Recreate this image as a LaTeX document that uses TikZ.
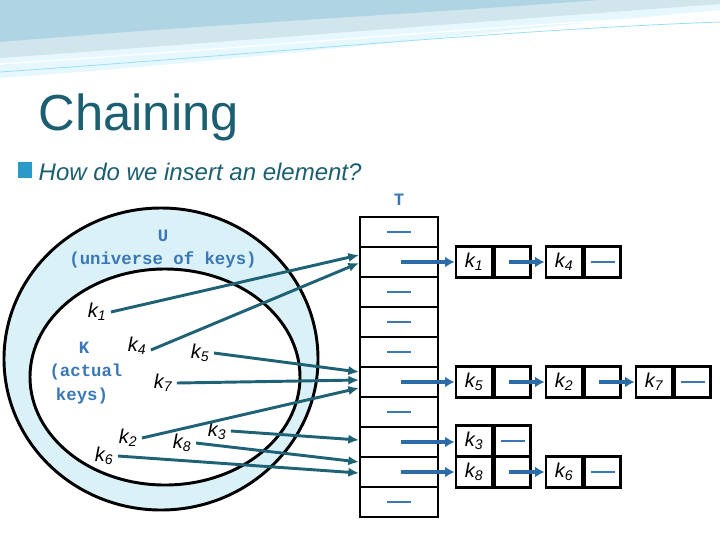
\documentclass[tikz,border=0pt]{standalone}
\usepackage{fontspec}
\setmainfont{Liberation Sans}
\setmonofont{Liberation Mono}
\usetikzlibrary{arrows.meta,shapes.multipart}
\definecolor{teal1}{HTML}{1B5F70}
\definecolor{arrT}{HTML}{1F6275}
\definecolor{arrB}{HTML}{2B6CA8}
\definecolor{lbl}{HTML}{3A78B5}
\definecolor{cyanbg}{HTML}{D9F1F7}
\begin{document}
\begin{tikzpicture}[x=0.75pt,y=-0.75pt,
  cell/.style={draw,line width=2.2pt,minimum width=36pt*0.75,minimum height=31pt*0.75,inner sep=0pt},
  tcell/.style={draw,line width=2.2pt,minimum width=78pt*0.75,minimum height=30pt*0.75,inner sep=0pt},
  kk/.style={font=\fontsize{15}{16}\selectfont\itshape},
  ml/.style={font=\fontsize{13}{14}\selectfont\ttfamily\bfseries,text=lbl},
  ta/.style={-{Latex[length=8pt,width=7pt]},line width=2.2pt,arrT},
  ba/.style={-{Latex[length=7pt,width=8pt]},line width=3pt,arrB},
  nil/.style={line width=1.3pt,lbl}]
\useasboundingbox (0,0) rectangle (720,540);
\fill[white] (0,0) rectangle (720,540);
% top decoration
\fill[cyan!10] (0,0) -- (720,0) -- (720,10) .. controls (500,30) and (250,60) .. (0,78) -- cycle;
\fill[cyan!25!teal!20] (0,0) -- (720,0) -- (720,4) .. controls (500,20) and (250,40) .. (0,58) -- cycle;
\fill[cyan!40!teal!35] (0,0) -- (600,0) .. controls (400,15) and (200,25) .. (0,42) -- cycle;
\draw[white,line width=1pt] (0,64) .. controls (250,48) and (500,25) .. (720,14);
\draw[cyan!40,line width=0.6pt] (0,72) .. controls (250,55) and (500,30) .. (720,22);
% title
\node[anchor=west,text=teal1,font=\fontsize{38}{42}\selectfont] (title) at (34,117) {Chaining};
\fill[cyan!60!teal] (18,162) rectangle (32,178);
\node[anchor=west,text=teal1,font=\fontsize{18}{20}\selectfont\itshape] (q) at (34,172) {How do we insert an element?};
% sets
\filldraw[fill=cyanbg,line width=2.2pt] (161,359) ellipse [x radius=157,y radius=151];
\filldraw[fill=white,line width=2.2pt] (165,377) ellipse [x radius=135,y radius=108];
\node[ml] (U) at (163,236) {U};
\node[ml] (Ut) at (163,260) {(universe of keys)};
\node[ml] (K) at (84,348) {K};
\node[ml] (K2) at (86,372) {(actual};
\node[ml] (K3) at (82,396) {keys)};
\node[kk] (a1) at (97,312) {k\textsubscript{1}};
\node[kk] (a4) at (137,346) {k\textsubscript{4}};
\node[kk] (a5) at (200,353) {k\textsubscript{5}};
\node[kk] (a7) at (163,383) {k\textsubscript{7}};
\node[kk] (a2) at (128,438) {k\textsubscript{2}};
\node[kk] (a6) at (104,456) {k\textsubscript{6}};
\node[kk] (a8) at (182,443) {k\textsubscript{8}};
\node[kk] (a3) at (217,431) {k\textsubscript{3}};
% table
\node[ml] (T) at (399,200) {T};
\foreach \i/\y in {0/232,1/262,2/292,3/322,4/352,5/382,6/412,7/442,8/472,9/502}
  \node[tcell] (t\i) at (399,\y) {};
\foreach \i in {0,2,3,4,6,9} \draw[nil] ([xshift=-12*0.75pt]t\i.center) -- ([xshift=12*0.75pt]t\i.center);
% list cells
\newcommand\lcell[4]{% name, x, y, key
  \node[cell] (#1k) at (#2,#3) {\fontsize{15}{16}\selectfont\itshape k\textsubscript{#4}};
  \node[cell,anchor=west] (#1p) at (#1k.east) {};}
\lcell{c1}{474}{262}{1}
\lcell{c4}{564}{262}{4}
\lcell{c5}{474}{382}{5}
\lcell{c2}{564}{382}{2}
\lcell{c7}{654}{382}{7}
\lcell{c3}{474}{441}{3}
\lcell{c8}{474}{472}{8}
\lcell{c6}{564}{472}{6}
\foreach \c in {c4,c7,c3,c6} \draw[nil] ([xshift=-12*0.75pt]\c p.center) -- ([xshift=12*0.75pt]\c p.center);
% list arrows
\draw[ba] ([xshift=2*0.75pt]t1.center) -- (c1k.west);
\draw[ba] ([xshift=-4*0.75pt]c1p.center) -- (c4k.west);
\draw[ba] ([xshift=2*0.75pt]t5.center) -- (c5k.west);
\draw[ba] ([xshift=-4*0.75pt]c5p.center) -- (c2k.west);
\draw[ba] ([xshift=-4*0.75pt]c2p.center) -- (c7k.west);
\draw[ba] ([xshift=2*0.75pt]t7.center) -- (c3k.west |- t7.center);
\draw[ba] ([xshift=2*0.75pt]t8.center) -- (c8k.west);
\draw[ba] ([xshift=-4*0.75pt]c8p.center) -- (c6k.west);
% hash arrows
\coordinate (e1) at (359,255); \coordinate (e4) at (359,263);
\coordinate (e5) at (359,372); \coordinate (e7) at (359,380); \coordinate (e2) at (359,388);
\coordinate (e3) at (359,440); \coordinate (e8) at (359,462); \coordinate (e6) at (359,473);
\draw[ta] (a1.east) -- (e1);
\draw[ta] ([yshift=-4*0.75pt]a4.east) -- (e4);
\draw[ta] (a5.east) -- (e5);
\draw[ta] (a7.east) -- (e7);
\draw[ta] (a2.east) -- (e2);
\draw[ta] (a3.east) -- (e3);
\draw[ta] (a8.east) -- (e8);
\draw[ta] (a6.east) -- (e6);
\end{tikzpicture}
\end{document}
